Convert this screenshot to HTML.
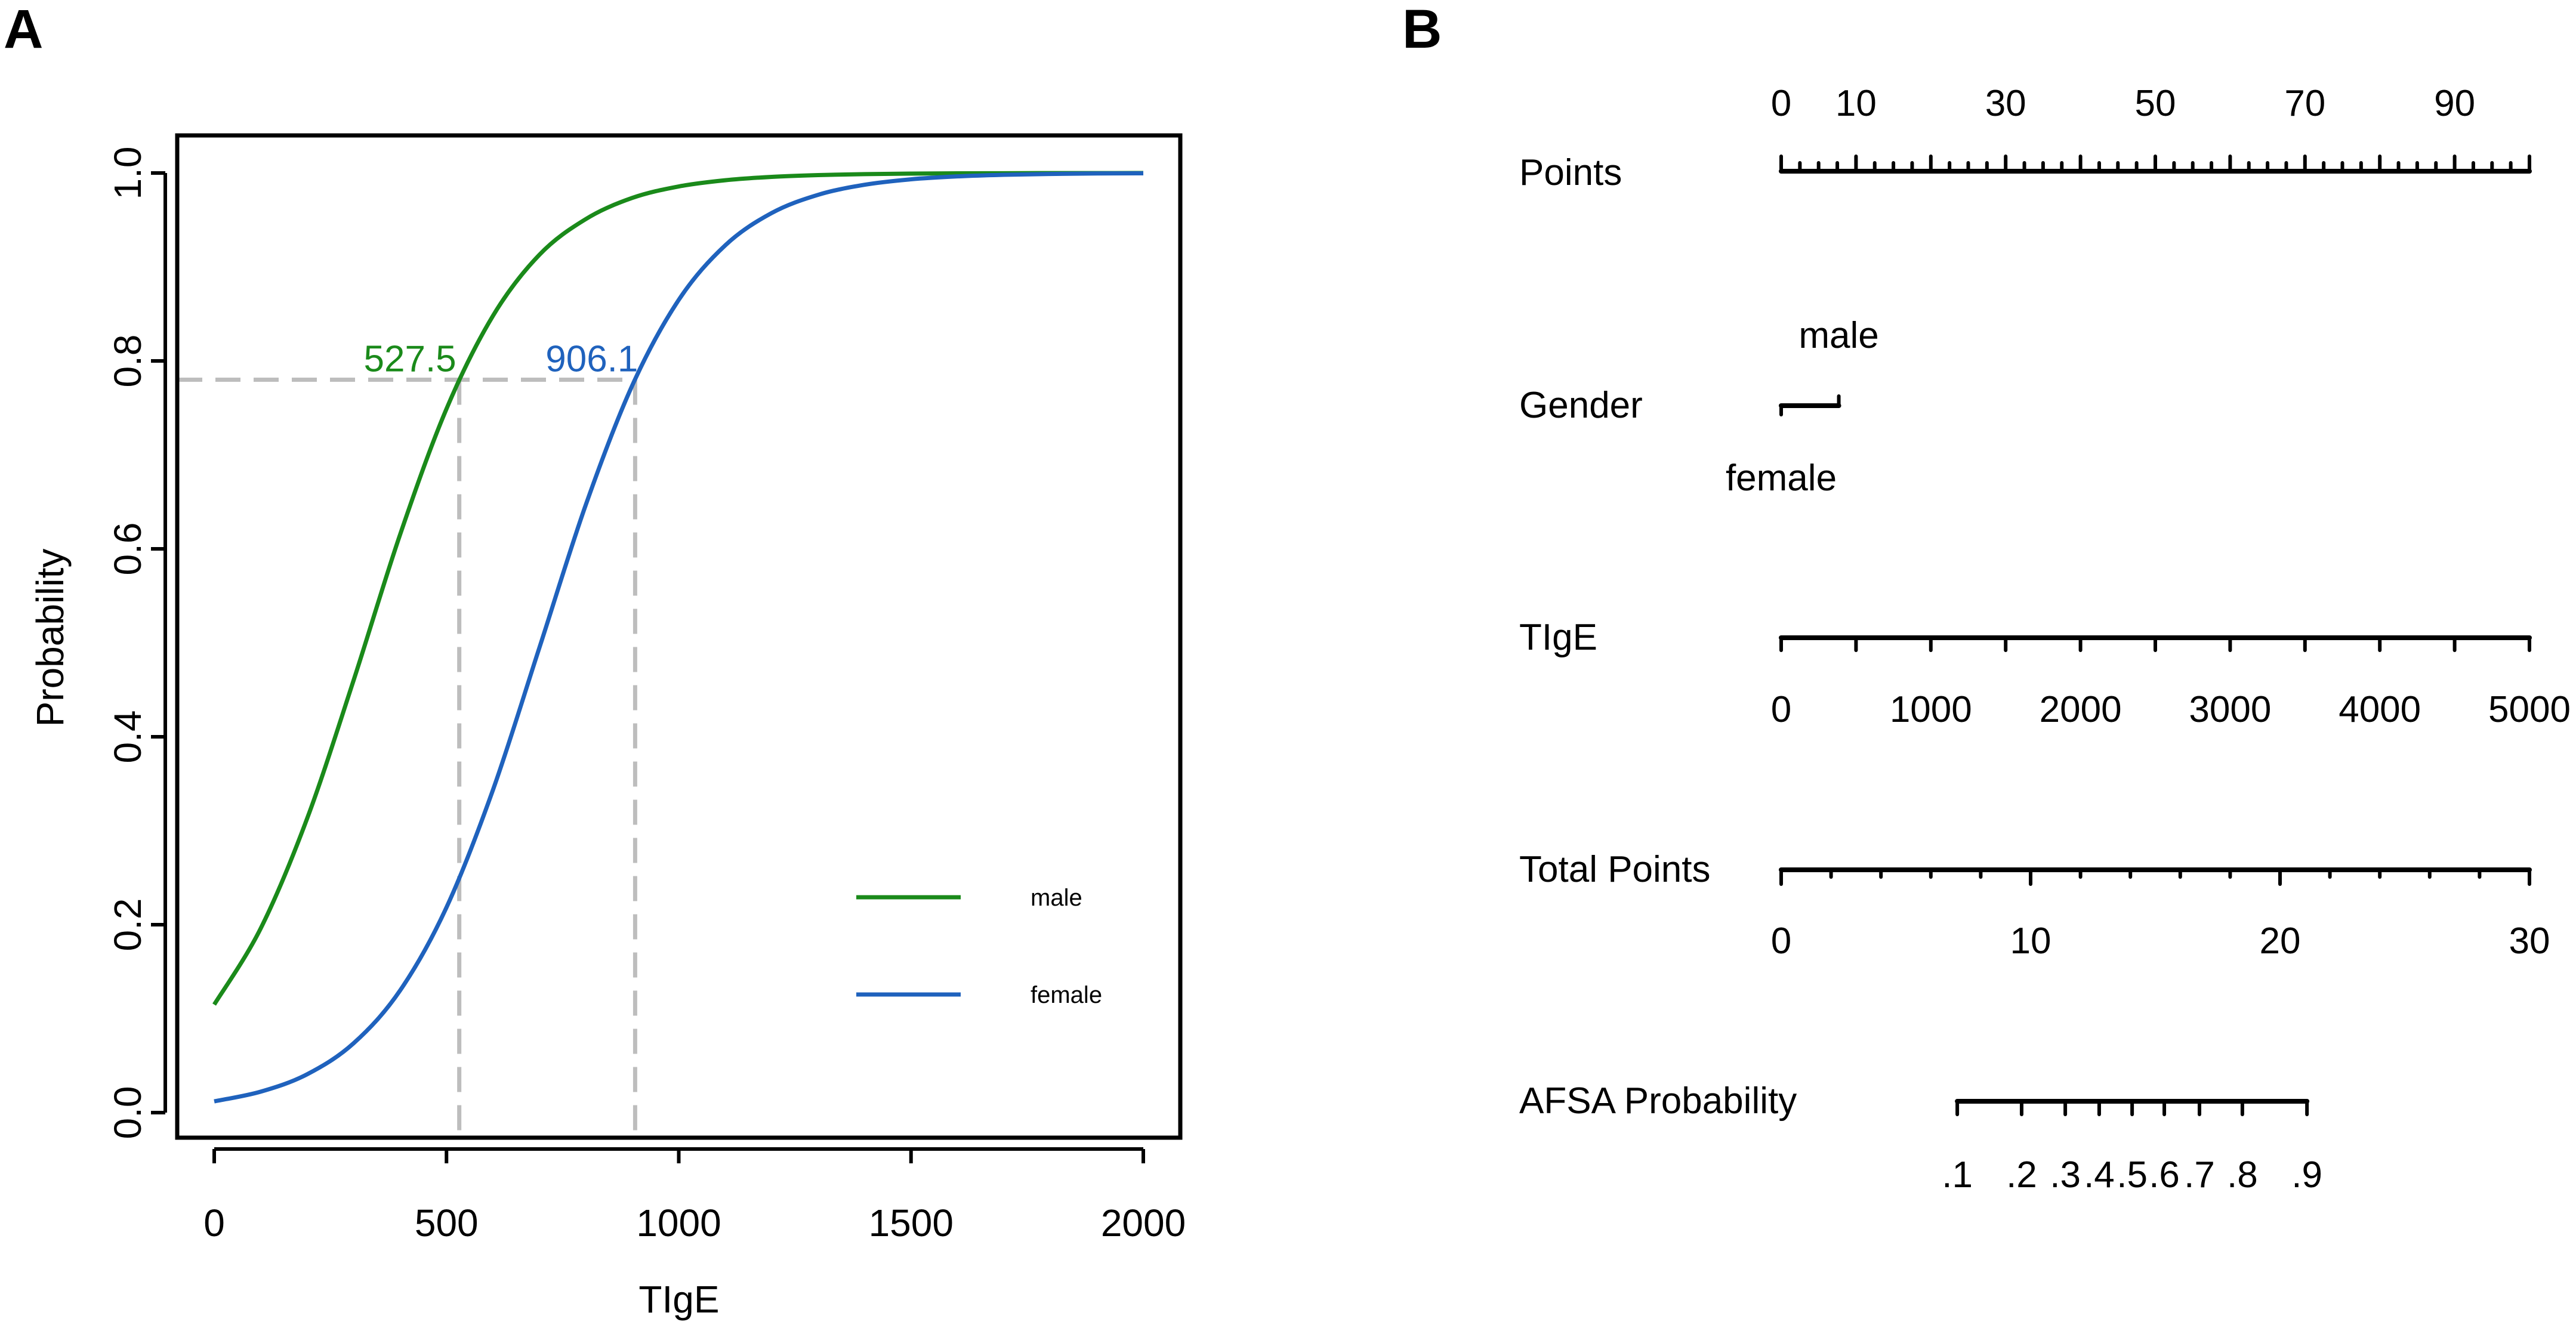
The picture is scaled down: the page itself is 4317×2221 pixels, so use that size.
<!DOCTYPE html>
<html><head><meta charset="utf-8"><style>
html,body{margin:0;padding:0;background:#fff;}
svg{display:block;font-family:"Liberation Sans",Arial,sans-serif;}
</style></head><body>
<svg id="fig" width="4317" height="2221" viewBox="0 0 4317 2221" xmlns="http://www.w3.org/2000/svg">
<rect width="4317" height="2221" fill="#fff"/>
<text x="6" y="80" font-size="92" font-weight="bold">A</text>
<text x="2350" y="80" font-size="92" font-weight="bold">B</text>
<g id="pa"></g>
<g id="pb"></g>
</svg>
<script>
// ---- Panel A data ----
const xVals = [0,100,200,300,400,500,600,700,800,900,1000,1100,1200,1300,1400,1500,1600,1700,1800,1900,2000];
const maleProb = [0.115,0.196,0.313,0.460,0.615,0.749,0.848,0.913,0.951,0.9735,0.9857,0.9923,0.9959,0.9978,0.9988,0.9994,0.9997,0.9998,0.9999,0.9999,1.0];
const femaleProb = [0.012,0.0223,0.0408,0.0738,0.1299,0.2184,0.3434,0.4948,0.647,0.774,0.865,0.923,0.9574,0.9768,0.9875,0.9933,0.9964,0.9981,0.999,0.9995,0.9997];
const xTicks = [0,500,1000,1500,2000];
const yTicks = [0.0,0.2,0.4,0.6,0.8,1.0];
const yTickLabels = ["0.0","0.2","0.4","0.6","0.8","1.0"];
const cutProb = 0.78;
const cutMale = 527.5;
const cutFemale = 906.1;
const legendNames = ["male","female"];

// ---- Panel B data ----
const pointsMajor = [0,10,20,30,40,50,60,70,80,90,100];
const pointsLabels = [0,10,30,50,70,90];
const tigeTicks = [0,500,1000,1500,2000,2500,3000,3500,4000,4500,5000];
const tigeLabels = [0,1000,2000,3000,4000,5000];
const totalTicks = [0,2,4,6,8,10,12,14,16,18,20,22,24,26,28,30];
const totalLabels = [0,10,20,30];
const afsaTotals = [7.06,9.64,11.39,12.75,14.07,15.36,16.77,18.49,21.08];
const afsaLabels = [".1",".2",".3",".4",".5",".6",".7",".8",".9"];
const genderPoints = [0,7.7];

const NS="http://www.w3.org/2000/svg";
function el(parent,tag,attrs,text){const e=document.createElementNS(NS,tag);for(const k in attrs)e.setAttribute(k,attrs[k]);if(text!==undefined)e.textContent=text;parent.appendChild(e);return e;}

// Panel A
const pa=document.getElementById('pa');
const X=v=>359+(v-0)*(1916-359)/2000;
const Y=p=>1865-p*(1865-290);
const GREEN="#1a8a1a", BLUE="#1f62bd", GRAY="#bdbdbd";
function smoothPath(xs,ys){
  const pts=xs.map((x,i)=>[X(x),Y(ys[i])]);
  let d="M"+pts[0][0]+","+pts[0][1];
  for(let i=0;i<pts.length-1;i++){
    const p0=pts[Math.max(0,i-1)],p1=pts[i],p2=pts[i+1],p3=pts[Math.min(pts.length-1,i+2)];
    const c1=[p1[0]+(p2[0]-p0[0])/6,p1[1]+(p2[1]-p0[1])/6];
    const c2=[p2[0]-(p3[0]-p1[0])/6,p2[1]-(p3[1]-p1[1])/6];
    d+=" C"+c1[0]+","+c1[1]+" "+c2[0]+","+c2[1]+" "+p2[0]+","+p2[1];
  }
  return d;
}
let e;
e=el(pa,'line',{x1:297,y1:Y(cutProb),x2:X(cutFemale),y2:Y(cutProb),stroke:GRAY,'stroke-width':7,'stroke-dasharray':'42,22'});


e=el(pa,'line',{x1:X(cutMale),y1:Y(cutProb),x2:X(cutMale),y2:1907,stroke:GRAY,'stroke-width':7,'stroke-dasharray':'42,22'});


e=el(pa,'line',{x1:X(cutFemale),y1:Y(cutProb),x2:X(cutFemale),y2:1907,stroke:GRAY,'stroke-width':7,'stroke-dasharray':'42,22'});


e=el(pa,'path',{d:smoothPath(xVals,maleProb),fill:'none',stroke:GREEN,'stroke-width':7});


e=el(pa,'path',{d:smoothPath(xVals,femaleProb),fill:'none',stroke:BLUE,'stroke-width':7});


e=el(pa,'text',{x:X(cutMale)-5,y:Y(cutProb)-14,'font-size':62,fill:GREEN,'text-anchor':'end'},cutMale.toFixed(1));


e=el(pa,'text',{x:X(cutFemale)+5,y:Y(cutProb)-14,'font-size':62,fill:BLUE,'text-anchor':'end'},cutFemale.toFixed(1));


e=el(pa,'rect',{x:297,y:227,width:1681,height:1680,fill:'none',stroke:'#000','stroke-width':7});


e=el(pa,'line',{x1:X(xTicks[0]),y1:1926,x2:X(xTicks[xTicks.length-1]),y2:1926,stroke:'#000','stroke-width':6});


xTicks.forEach(v=>{
  const t=el(pa,'line',{x1:X(v),y1:1926,x2:X(v),y2:1950,stroke:'#000','stroke-width':6});
  
  
  const l=el(pa,'text',{x:X(v),y:2072,'font-size':64,'text-anchor':'middle'},String(v));
  
  
});
e=el(pa,'line',{x1:277,y1:Y(0),x2:277,y2:Y(1),stroke:'#000','stroke-width':6});


yTicks.forEach((v,i)=>{
  const t=el(pa,'line',{x1:253,y1:Y(v),x2:277,y2:Y(v),stroke:'#000','stroke-width':6});
  
  
  const l=el(pa,'text',{x:0,y:0,'font-size':64,'text-anchor':'middle',transform:`translate(236,${Y(v)}) rotate(-90)`},yTickLabels[i]);
  
  
});
e=el(pa,'text',{x:0,y:0,'font-size':64,'text-anchor':'middle',transform:'translate(106,1069) rotate(-90)'},'Probability');


e=el(pa,'text',{x:1138,y:2200,'font-size':64,'text-anchor':'middle'},'TIgE');


[[GREEN,1504],[BLUE,1667]].forEach((c,i)=>{
  const l=el(pa,'line',{x1:1435,y1:c[1],x2:1610,y2:c[1],stroke:c[0],'stroke-width':7});
  
  
  const t=el(pa,'text',{x:1727,y:c[1]+14,'font-size':40},legendNames[i]);
  
  
});

// Panel B
const pb=document.getElementById('pb');
const PX=p=>2985+p*(4239-2985)/100;
const TX=t=>2985+t*(4239-2985)/30;
const GX=v=>2985+v*(4239-2985)/5000;
function hline(x1,x2,y,name){const l=el(pb,'line',{x1:x1,y1:y,x2:x2,y2:y,stroke:'#000','stroke-width':8,'stroke-linecap':'round'});}
function tick(x,y1,y2,name){const l=el(pb,'line',{x1:x,y1:y1,x2:x,y2:y2,stroke:'#000','stroke-width':6,'stroke-linecap':'round'});}
function txt(x,y,s,anchor,name,size){const t=el(pb,'text',{x:x,y:y,'font-size':size||62,'text-anchor':anchor||'middle'},s);}
txt(2546,310,'Points','start','row-label-points');
txt(2546,700,'Gender','start','row-label-gender');
txt(2546,1089,'TIgE','start','row-label-tige');
txt(2546,1478,'Total Points','start','row-label-total-points');
txt(2546,1866,'AFSA Probability','start','row-label-afsa-probability');
hline(PX(0),PX(100),287,'points-axis-line');
for(let p=0;p<=100;p+=2.5){
  const major=pointsMajor.includes(p);
  tick(PX(p),287,major?262:273,'points-tick');
}
pointsLabels.forEach(v=>txt(PX(v),194,String(v),'middle','points-tick-label'));
hline(PX(genderPoints[0]),PX(genderPoints[1]),680,'gender-axis-line');
tick(PX(genderPoints[0]),680,695,'gender-tick-female');
tick(PX(genderPoints[1]),680,664,'gender-tick-male');
txt(PX(genderPoints[1]),583,'male','middle','gender-label-male');
txt(PX(genderPoints[0]),822,'female','middle','gender-label-female');
hline(GX(0),GX(5000),1069,'tige-axis-line');
tigeTicks.forEach(v=>tick(GX(v),1069,1090,'tige-tick'));
tigeLabels.forEach(v=>txt(GX(v),1210,String(v),'middle','tige-tick-label'));
hline(TX(0),TX(30),1458,'total-points-axis-line');
totalTicks.forEach(v=>tick(TX(v),1458,totalLabels.includes(v)?1482:1470,'total-points-tick'));
totalLabels.forEach(v=>txt(TX(v),1598,String(v),'middle','total-points-tick-label'));
hline(TX(afsaTotals[0]),TX(afsaTotals[afsaTotals.length-1]),1846,'afsa-axis-line');
afsaTotals.forEach(v=>tick(TX(v),1846,1868,'afsa-tick'));
afsaTotals.forEach((v,i)=>txt(TX(v),1990,afsaLabels[i],'middle','afsa-tick-label'));
</script>
</body></html>
